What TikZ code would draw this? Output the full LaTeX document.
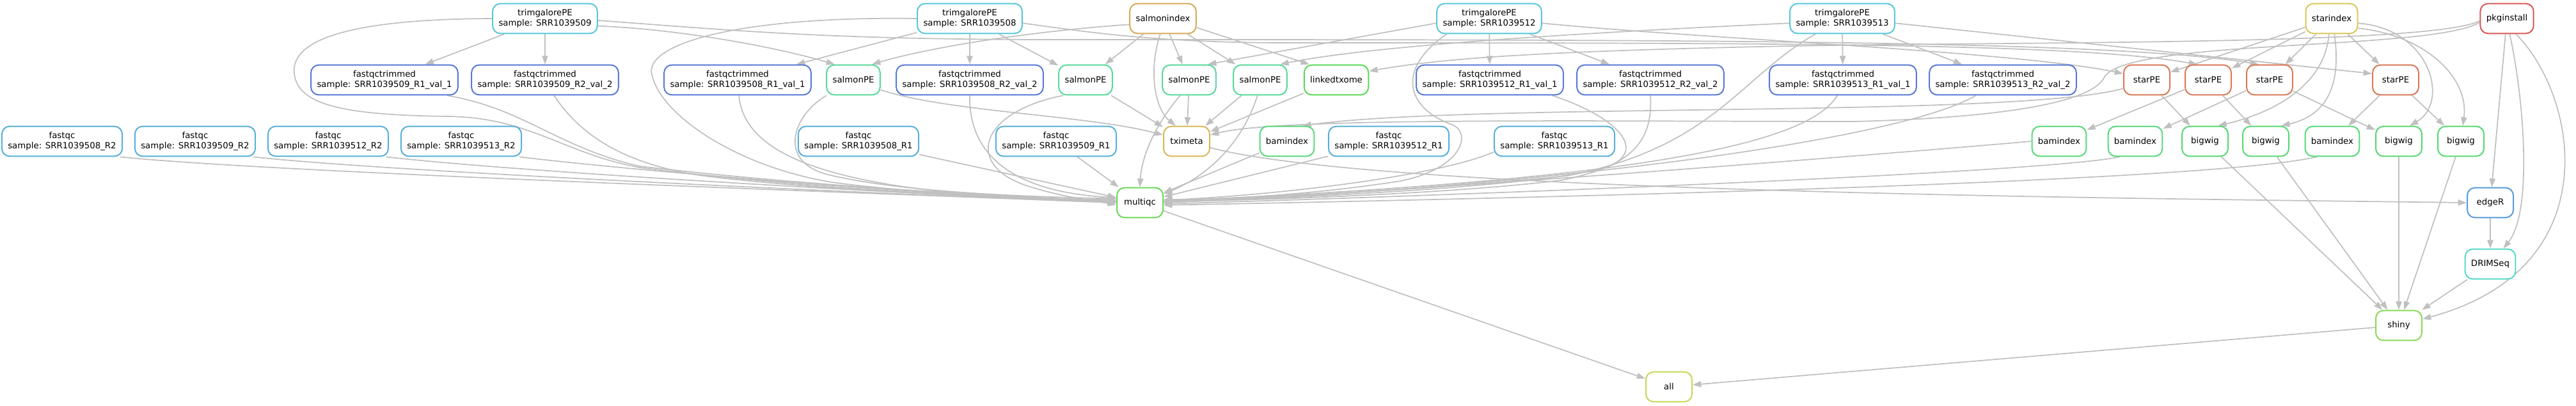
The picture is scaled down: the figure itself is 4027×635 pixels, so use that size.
\documentclass[tikz,border=0pt]{standalone}
\usepackage{
	fontspec,			% Fonts
	tikz,
	xcolor
}
\usetikzlibrary{arrows.meta}
\setmainfont{DejaVu Sans}

\definecolor{depgray}{RGB}{192,192,192}
\definecolor{cTrim}{HTML}{57C8D9}
\definecolor{cFqt}{HTML}{5779D9}
\definecolor{cFqc}{HTML}{57AFD9}
\definecolor{cSidx}{HTML}{D9A857}
\definecolor{cSal}{HTML}{57D99C}
\definecolor{cTxm}{HTML}{D9B657}
\definecolor{cLtx}{HTML}{5CD957}
\definecolor{cBai}{HTML}{57D97A}
\definecolor{cBw}{HTML}{57D972}
\definecolor{cStidx}{HTML}{D9C757}
\definecolor{cStar}{HTML}{D97857}
\definecolor{cPkg}{HTML}{D95757}
\definecolor{cMqc}{HTML}{6AD957}
\definecolor{cEdge}{HTML}{579DD9}
\definecolor{cDrim}{HTML}{57D9C8}
\definecolor{cShiny}{HTML}{8AD957}
\definecolor{cAll}{HTML}{C4D957}

\pgfdeclarelayer{back}
\pgfsetlayers{back,main}

\begin{document}
\begin{tikzpicture}[x=0.75pt, y=0.75pt,
		job/.style={draw=#1, line width=1.5pt, rounded corners=9pt, fill=white, align=center,
			minimum width=54pt, minimum height=35pt, inner xsep=7pt, font=\fontsize{10}{12}\selectfont},
		dep/.style={draw=depgray, line width=1.3pt, -{Triangle[length=10pt,width=7pt]}}]
		\useasboundingbox (0,0) rectangle (4027,-635);
		\node[job=cTrim] (tg509) at (852,-29) {trimgalorePE\\sample: SRR1039509};
		\node[job=cTrim] (tg508) at (1516,-29) {trimgalorePE\\sample: SRR1039508};
		\node[job=cSidx] (sidx) at (1818,-29) {salmonindex};
		\node[job=cTrim] (tg512) at (2328,-29) {trimgalorePE\\sample: SRR1039512};
		\node[job=cTrim] (tg513) at (2880,-29) {trimgalorePE\\sample: SRR1039513};
		\node[job=cStidx] (stidx) at (3645,-29) {starindex};
		\node[job=cPkg] (pkg) at (3919,-29) {pkginstall};

		\node[job=cFqt] (fqt509r1) at (601,-125) {fastqctrimmed\\sample: SRR1039509\_R1\_val\_1};
		\node[job=cFqt] (fqt509r2) at (852,-125) {fastqctrimmed\\sample: SRR1039509\_R2\_val\_2};
		\node[job=cFqt] (fqt508r1) at (1153,-125) {fastqctrimmed\\sample: SRR1039508\_R1\_val\_1};
		\node[job=cSal] (sal509) at (1334,-125) {salmonPE};
		\node[job=cFqt] (fqt508r2) at (1516,-125) {fastqctrimmed\\sample: SRR1039508\_R2\_val\_2};
		\node[job=cSal] (sal508) at (1697,-125) {salmonPE};
		\node[job=cSal] (sal512) at (1859,-125) {salmonPE};
		\node[job=cSal] (sal513) at (1970,-125) {salmonPE};
		\node[job=cLtx] (ltx) at (2089,-125) {linkedtxome};
		\node[job=cFqt] (fqt512r1) at (2329,-125) {fastqctrimmed\\sample: SRR1039512\_R1\_val\_1};
		\node[job=cFqt] (fqt512r2) at (2580,-125) {fastqctrimmed\\sample: SRR1039512\_R2\_val\_2};
		\node[job=cFqt] (fqt513r1) at (2881,-125) {fastqctrimmed\\sample: SRR1039513\_R1\_val\_1};
		\node[job=cFqt] (fqt513r2) at (3131,-125) {fastqctrimmed\\sample: SRR1039513\_R2\_val\_2};
		\node[job=cStar] (star512) at (3356,-125) {starPE};
		\node[job=cStar] (star508) at (3452,-125) {starPE};
		\node[job=cStar] (star509) at (3548,-125) {starPE};
		\node[job=cStar] (star513) at (3745,-125) {starPE};

		\node[job=cFqc] (fqc508r2) at (97,-221) {fastqc\\sample: SRR1039508\_R2};
		\node[job=cFqc] (fqc509r2) at (305,-221) {fastqc\\sample: SRR1039509\_R2};
		\node[job=cFqc] (fqc512r2) at (513,-221) {fastqc\\sample: SRR1039512\_R2};
		\node[job=cFqc] (fqc513r2) at (721,-221) {fastqc\\sample: SRR1039513\_R2};
		\node[job=cFqc] (fqc508r1) at (1342,-221) {fastqc\\sample: SRR1039508\_R1};
		\node[job=cFqc] (fqc509r1) at (1651,-221) {fastqc\\sample: SRR1039509\_R1};
		\node[job=cTxm] (txm) at (1855,-221) {tximeta};
		\node[job=cBai] (bai512) at (2012,-221) {bamindex};
		\node[job=cFqc] (fqc512r1) at (2171,-221) {fastqc\\sample: SRR1039512\_R1};
		\node[job=cFqc] (fqc513r1) at (2430,-221) {fastqc\\sample: SRR1039513\_R1};
		\node[job=cBai] (bai508) at (3219,-221) {bamindex};
		\node[job=cBai] (bai509) at (3338,-221) {bamindex};
		\node[job=cBw] (bw512) at (3447,-221) {bigwig};
		\node[job=cBw] (bw508) at (3542,-221) {bigwig};
		\node[job=cBai] (bai513) at (3646,-221) {bamindex};
		\node[job=cBw] (bw509) at (3750,-221) {bigwig};
		\node[job=cBw] (bw513) at (3847,-221) {bigwig};

		\node[job=cMqc] (multiqc) at (1782,-317) {multiqc};
		\node[job=cEdge] (edgeR) at (3893,-317) {edgeR};
		\node[job=cDrim] (drim) at (3893,-413) {DRIMSeq};
		\node[job=cShiny] (shiny) at (3750,-509) {shiny};
		\node[job=cAll] (all) at (2609,-605) {all};

		\begin{pgfonlayer}{back}
		% trimgalorePE
		\draw[dep] (tg509) -- (fqt509r1);
		\draw[dep] (tg509) -- (fqt509r2);
		\draw[dep] (tg509.-8) .. controls (1050,-45) and (1200,-70) .. (sal509.140);
		\draw[dep] (tg509.-2) .. controls (1150,-48) and (1300,-62) .. (1650,-62) .. controls (2600,-62) and (3300,-62) .. (star509.125);
		\draw[dep] (tg509.west) .. controls (520,-30) and (455,-70) .. (460,-115) .. controls (465,-165) and (540,-180) .. (700,-182) .. controls (830,-184) and (880,-240) .. (1000,-262) .. controls (1300,-300) and (1600,-310) .. (multiqc.175);
		\draw[dep] (tg508) -- (fqt508r1);
		\draw[dep] (tg508) -- (fqt508r2);
		\draw[dep] (tg508) -- (sal508);
		\draw[dep] (tg508.-5) .. controls (1700,-50) and (1800,-66) .. (2000,-67) .. controls (2800,-67) and (3250,-68) .. (star508.125);
		\draw[dep] (tg508.west) .. controls (1150,-25) and (1000,-70) .. (1020,-120) .. controls (1035,-180) and (1150,-260) .. (1300,-285) .. controls (1450,-305) and (1650,-312) .. (multiqc.172);
		\draw[dep] (tg512) -- (fqt512r1);
		\draw[dep] (tg512) -- (fqt512r2);
		\draw[dep] (tg512.185) -- (sal512.40);
		\draw[dep] (tg512.-5) .. controls (2650,-60) and (3150,-80) .. (star512.165);
		\draw[dep] (tg512.200) .. controls (2180,-110) and (2200,-170) .. (2270,-195) .. controls (2300,-206) and (2290,-262) .. (2190,-283) .. controls (2050,-305) and (1900,-313) .. (multiqc.8);
		\draw[dep] (tg513) -- (fqt513r1);
		\draw[dep] (tg513) -- (fqt513r2);
		\draw[dep] (tg513.185) .. controls (2500,-50) and (2150,-70) .. (sal513.38);
		\draw[dep] (tg513.-5) -- (star513.165);
		\draw[dep] (tg513.210) .. controls (2720,-120) and (2680,-230) .. (2450,-275) .. controls (2200,-300) and (1950,-310) .. (multiqc.5);
		% salmon
		\draw[dep] (sidx.190) .. controls (1600,-50) and (1450,-75) .. (sal509.40);
		\draw[dep] (sidx) -- (sal508);
		\draw[dep] (sidx) -- (sal512);
		\draw[dep] (sidx) -- (sal513);
		\draw[dep] (sidx.260) .. controls (1795,-110) and (1805,-170) .. (txm.125);
		\draw[dep] (sidx.-15) -- (ltx.150);
		\draw[dep] (sal509.-20) .. controls (1480,-175) and (1700,-180) .. (txm.165);
		\draw[dep] (sal508) -- (txm);
		\draw[dep] (sal512) -- (txm);
		\draw[dep] (sal513) -- (txm);
		\draw[dep] (sal509.210) .. controls (1240,-180) and (1215,-250) .. (1290,-272) .. controls (1400,-300) and (1600,-308) .. (multiqc.170);
		\draw[dep] (sal508.215) .. controls (1530,-175) and (1505,-260) .. (1610,-292) .. controls (1660,-308) and (1710,-314) .. (multiqc.185);
		\draw[dep] (sal512.240) .. controls (1810,-190) and (1785,-240) .. (multiqc.north);
		\draw[dep] (sal513.-100) .. controls (1950,-200) and (1910,-265) .. (multiqc.20);
		\draw[dep] (ltx) -- (txm);
		% pkginstall
		\draw[dep] (pkg.185) .. controls (3800,-70) and (3200,-65) .. (2800,-72) .. controls (2400,-80) and (2250,-92) .. (ltx.15);
		\draw[dep] (pkg.188) .. controls (3800,-80) and (3330,-60) .. (3290,-120) .. controls (3270,-165) and (3100,-185) .. (2900,-190) .. controls (2500,-190) and (2000,-183) .. (txm.15);
		\draw[dep] (pkg) -- (edgeR);
		\draw[dep] (pkg.-80) .. controls (3945,-150) and (3960,-330) .. (drim.50);
		\draw[dep] (pkg.-60) .. controls (4030,-150) and (4080,-420) .. (shiny.15);
		% star
		\draw[dep] (stidx) -- (star512);
		\draw[dep] (stidx) -- (star508);
		\draw[dep] (stidx) -- (star509);
		\draw[dep] (stidx) -- (star513);
		\draw[dep] (stidx.-100) .. controls (3635,-130) and (3560,-175) .. (bw512.50);
		\draw[dep] (stidx.-80) .. controls (3660,-130) and (3640,-180) .. (bw508.45);
		\draw[dep] (stidx.-10) .. controls (3800,-45) and (3830,-160) .. (bw509.55);
		\draw[dep] (stidx.-20) .. controls (3790,-55) and (3860,-120) .. (bw513);
		\draw[dep] (star512) -- (bw512);
		\draw[dep] (star512.200) .. controls (3150,-185) and (2300,-160) .. (bai512.45);
		\draw[dep] (star508) -- (bai508);
		\draw[dep] (star508) -- (bw508);
		\draw[dep] (star509) -- (bai509);
		\draw[dep] (star509) -- (bw509);
		\draw[dep] (star513) -- (bai513);
		\draw[dep] (star513) -- (bw513);
		\draw[dep] (bai512) -- (multiqc);
		\draw[dep] (bai508.west) .. controls (2900,-245) and (2200,-300) .. (multiqc.east);
		\draw[dep] (bai509.225) .. controls (3200,-270) and (2300,-305) .. (multiqc.-3);
		\draw[dep] (bai513.225) .. controls (3450,-285) and (2400,-310) .. (multiqc.-6);
		% fastqc
		\draw[dep] (fqt509r1.-14) .. controls (820,-170) and (870,-230) .. (1000,-260) .. controls (1300,-295) and (1600,-308) .. (multiqc.176);
		\draw[dep] (fqt509r2.-60) .. controls (900,-200) and (960,-255) .. (1100,-275) .. controls (1300,-300) and (1600,-310) .. (multiqc.178);
		\draw[dep] (fqt508r1.-85) .. controls (1165,-260) and (1350,-305) .. (multiqc.178);
		\draw[dep] (fqt508r2.south) .. controls (1514,-240) and (1580,-300) .. (multiqc.168);
		\draw[dep] (fqt512r1.-14) .. controls (2520,-180) and (2575,-230) .. (2520,-258) .. controls (2450,-290) and (2000,-312) .. (multiqc.3);
		\draw[dep] (fqt512r2.south) .. controls (2585,-230) and (2540,-262) .. (2440,-282) .. controls (2250,-305) and (1950,-313) .. (multiqc.2);
		\draw[dep] (fqt513r1.-110) .. controls (2830,-220) and (2600,-280) .. (multiqc.4);
		\draw[dep] (fqt513r2.-150) .. controls (2950,-230) and (2300,-300) .. (multiqc.1);
		\draw[dep] (fqc508r2.-15) .. controls (400,-268) and (1300,-300) .. (multiqc.180);
		\draw[dep] (fqc509r2.-15) .. controls (600,-268) and (1350,-302) .. (multiqc.180);
		\draw[dep] (fqc512r2.-15) .. controls (800,-268) and (1400,-303) .. (multiqc.179);
		\draw[dep] (fqc513r2.-15) .. controls (1000,-268) and (1450,-305) .. (multiqc.179);
		\draw[dep] (fqc508r1) -- (multiqc);
		\draw[dep] (fqc509r1) -- (multiqc);
		\draw[dep] (fqc512r1) -- (multiqc);
		\draw[dep] (fqc513r1.190) .. controls (2250,-275) and (2000,-305) .. (multiqc.6);
		% results
		\draw[dep] (txm.-15) .. controls (2150,-300) and (3300,-310) .. (edgeR.west);
		\draw[dep] (edgeR) -- (drim);
		\draw[dep] (drim) -- (shiny);
		\draw[dep] (bw512) -- (shiny);
		\draw[dep] (bw508) -- (shiny);
		\draw[dep] (bw509) -- (shiny);
		\draw[dep] (bw513) -- (shiny);
		\draw[dep] (multiqc) -- (all);
		\draw[dep] (shiny) -- (all);
		\end{pgfonlayer}
	\end{tikzpicture}
\end{document}
